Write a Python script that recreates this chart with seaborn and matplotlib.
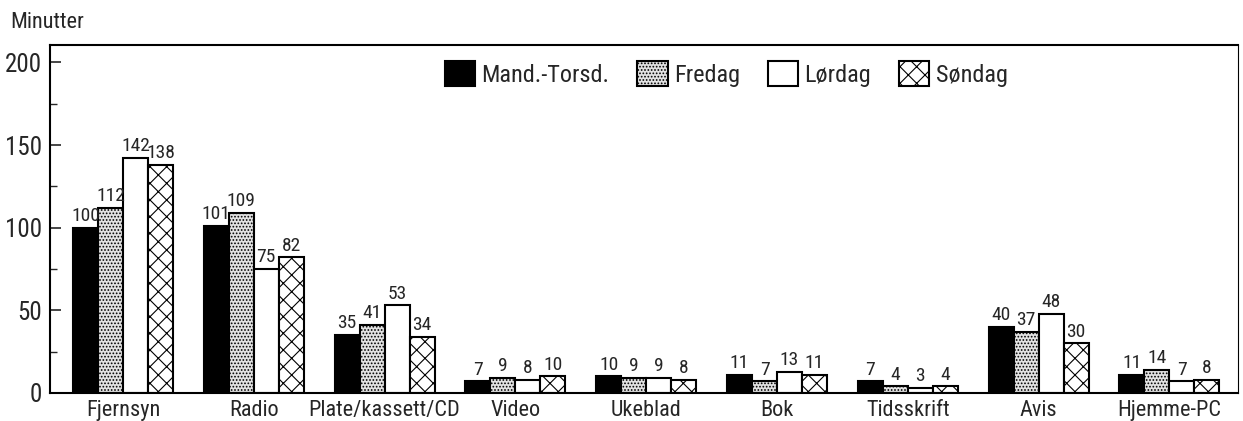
import matplotlib
matplotlib.use("Agg")
import matplotlib.pyplot as plt
import seaborn as sns
import pandas as pd
from matplotlib.ticker import MultipleLocator

categories = ["Fjernsyn", "Radio", "Plate/kassett/CD", "Video", "Ukeblad",
              "Bok", "Tidsskrift", "Avis", "Hjemme-PC"]
series = ["Mand.-Torsd.", "Fredag", "Lørdag", "Søndag"]
mand_torsd = [100, 101, 35, 7, 10, 11, 7, 40, 11]
fredag = [112, 109, 41, 9, 9, 7, 4, 37, 14]
lordag = [142, 75, 53, 8, 9, 13, 3, 48, 7]
sondag = [138, 82, 34, 10, 8, 11, 4, 30, 8]
values = [mand_torsd, fredag, lordag, sondag]
y_ticks = [0, 50, 100, 150, 200]
y_label = "Minutter"

rows = []
for s, vals in zip(series, values):
    for c, v in zip(categories, vals):
        rows.append({"Kategori": c, "Dag": s, "Minutter": v})
df = pd.DataFrame(rows)

sns.set_style("white")
plt.rcParams["font.family"] = ["Roboto Condensed", "Archivo Narrow", "Liberation Sans", "DejaVu Sans"]
plt.rcParams["hatch.linewidth"] = 0.8

fig = plt.figure(figsize=(12.43, 4.21), dpi=100)
ax = fig.add_axes([50 / 1243, 1 - 393 / 421, (1238 - 50) / 1243, (393 - 45) / 421])

sns.barplot(data=df, x="Kategori", y="Minutter", hue="Dag", order=categories,
            hue_order=series, ax=ax, width=0.765, legend=False, errorbar=None,
            saturation=1)

styles = [
    dict(facecolor="black", hatch=None),
    dict(facecolor="#e2e2e2", hatch="....."),
    dict(facecolor="white", hatch=None),
    dict(facecolor="white", hatch="xx"),
]
for cont, st in zip(ax.containers, styles):
    for p in cont.patches:
        p.set_facecolor(st["facecolor"])
        p.set_edgecolor("black")
        p.set_linewidth(1.5)
        if st["hatch"]:
            p.set_hatch(st["hatch"])
    ax.bar_label(cont, fmt="%d", padding=2, fontsize=14)

ax.set_xlim(-0.558, 8.524)
ax.set_ylim(0, 210.5)
ax.set_yticks(y_ticks)
ax.yaxis.set_minor_locator(MultipleLocator(25))
ax.tick_params(axis="y", which="major", direction="in", length=8, width=1.2,
               labelsize=18, left=True, pad=6)
ax.tick_params(axis="y", which="minor", direction="in", length=5, width=1.0, left=True)
ax.tick_params(axis="x", length=0, labelsize=16, pad=5)
ax.set_xlabel("")
ax.set_ylabel("")
for side in ["left", "bottom", "top"]:
    ax.spines[side].set_linewidth(1.5)
    ax.spines[side].set_color("black")
ax.spines["right"].set_linewidth(0.8)
ax.spines["right"].set_color("black")

fig.text(10 / 1243, 1 - 22 / 421, y_label, fontsize=16, va="center", ha="left")

handles = [c.patches[0] for c in ax.containers]
ax.legend(handles, series, loc="upper left", bbox_to_anchor=(0.3325, 0.955),
          ncol=4, frameon=False, fontsize=17.5, handlelength=1.25, handleheight=1.25,
          handletextpad=0.25, columnspacing=1.15, borderpad=0, borderaxespad=0)

fig.savefig("out.png", dpi=100)
